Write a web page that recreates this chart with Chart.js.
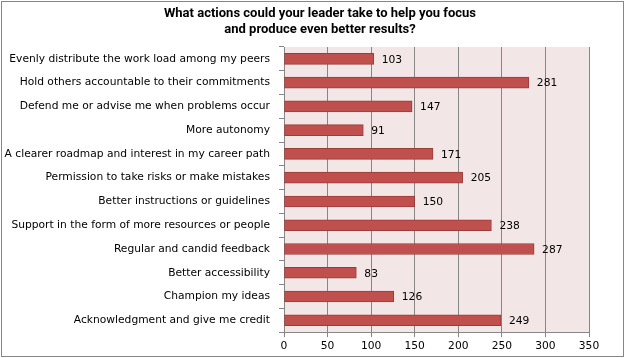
<!DOCTYPE html>
<html><head><meta charset="utf-8">
<script src="https://cdn.jsdelivr.net/npm/chart.js@4"></script>
<style>html,body{margin:0;padding:0;background:#fff}#w{width:625px;height:358px}</style>
</head><body><div id="w"><canvas id="c"></canvas></div>
<script>
const categories = [
  "Evenly distribute the work load among my peers",
  "Hold others accountable to their commitments",
  "Defend me or advise me when problems occur",
  "More autonomy",
  "A clearer roadmap and interest in my career path",
  "Permission to take risks or make mistakes",
  "Better instructions or guidelines",
  "Support in the form of more resources or people",
  "Regular and candid feedback",
  "Better accessibility",
  "Champion my ideas",
  "Acknowledgment and give me credit"
];
const values = [103, 281, 147, 91, 171, 205, 150, 238, 287, 83, 126, 249];
const xTicks = [0, 50, 100, 150, 200, 250, 300, 350];
const titleLines = ["What actions could your leader take to help you focus", "and produce even better results?"];

const FONT = "'DejaVu Sans', Verdana, sans-serif";

const deco = {
  id: 'deco',
  beforeDraw(chart) {
    const {ctx, chartArea: a} = chart;
    ctx.save();
    ctx.fillStyle = '#fff';
    ctx.fillRect(0, 0, chart.width, chart.height);
    ctx.fillStyle = '#F2E6E6';
    ctx.fillRect(a.left, a.top, a.right - a.left, a.bottom - a.top);
    ctx.restore();
  },
  afterDraw(chart) {
    const {ctx} = chart;
    ctx.save();
    ctx.strokeStyle = '#868686';
    ctx.lineWidth = 1;
    ctx.strokeRect(1.5, 1.5, chart.width - 3, chart.height - 3);
    const meta = chart.getDatasetMeta(0);
    ctx.fillStyle = '#000';
    ctx.font = "10.7px " + FONT;
    ctx.textBaseline = 'middle';
    meta.data.forEach((bar, i) => {
      ctx.fillText(String(values[i]), bar.x + 8, bar.y + 1);
    });
    // title, slightly condensed to mimic a narrow face
    ctx.font = "bold 13px Roboto, 'Liberation Sans', sans-serif";
    ctx.textAlign = 'center';
    ctx.textBaseline = 'alphabetic';
    const cx = 320;
    const ys = [17, 33];
    const w = ctx.measureText(titleLines[0]).width;
    const s = Math.min(1, 314 / w);
    titleLines.forEach((t, i) => {
      ctx.save();
      ctx.translate(cx, ys[i]);
      ctx.scale(s, 1);
      ctx.fillText(t, 0, 0);
      ctx.restore();
    });
    ctx.restore();
  }
};

new Chart(document.getElementById('c'), {
  type: 'bar',
  data: {
    labels: categories,
    datasets: [{
      data: values,
      backgroundColor: '#C0504D',
      borderColor: '#9A3D3A',
      borderWidth: 1,
      borderSkipped: false,
      barThickness: 11,
      categoryPercentage: 1.0
    }]
  },
  options: {
    indexAxis: 'y',
    responsive: true,
    maintainAspectRatio: false,
    animation: false,
    devicePixelRatio: 1,
    layout: { padding: { top: 47, right: 36, bottom: 2, left: 4 } },
    plugins: {
      legend: { display: false },
      tooltip: { enabled: false },
      title: { display: false }
    },
    scales: {
      x: {
        min: 0, max: 350,
        afterBuildTicks(scale) { scale.ticks = xTicks.map(v => ({value: v})); },
        grid: { color: '#868686', lineWidth: 1, drawTicks: true, tickLength: 5, tickColor: '#868686' },
        border: { color: '#868686', display: true },
        ticks: { color: '#000', font: { family: FONT, size: 10.7 }, padding: 3 }
      },
      y: {
        offset: true,
        grid: { offset: true, drawOnChartArea: false, drawTicks: true, tickLength: 5, tickColor: '#868686' },
        border: { color: '#868686', display: true },
        ticks: { color: '#000', font: { family: FONT, size: 10.7 }, padding: 9, autoSkip: false },
        afterFit(scale) { scale.width = 280; }
      }
    }
  },
  plugins: [deco]
});
</script></body></html>
